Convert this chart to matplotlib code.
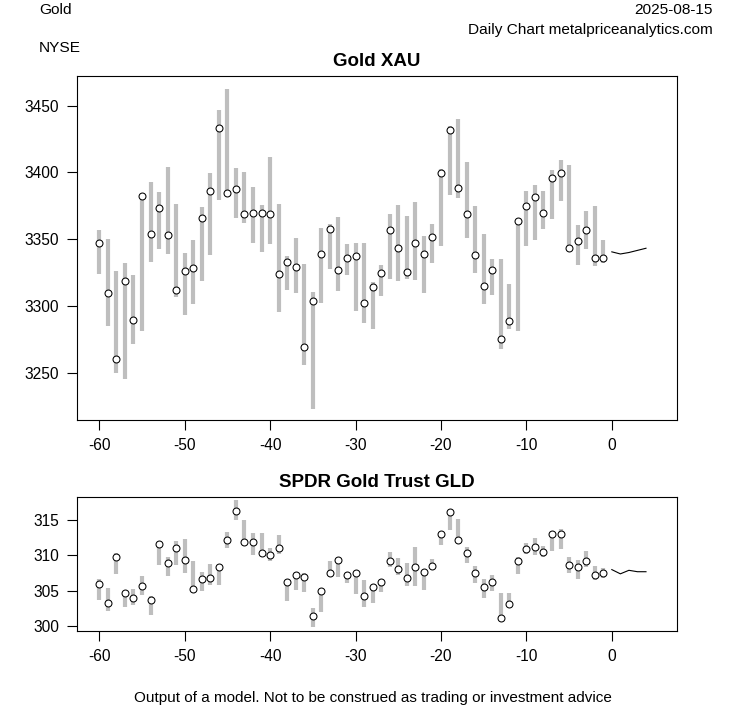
import numpy as np
import matplotlib
matplotlib.use('Agg')
import matplotlib.pyplot as plt

plt.rcParams['font.family'] = ['Liberation Sans', 'DejaVu Sans']
plt.rcParams['axes.unicode_minus'] = False

days = list(range(-60, 0))

# Gold XAU: close, high, low
xau_close = [3346.9, 3309.5, 3260.0, 3318.5, 3289.2, 3382.4, 3353.7, 3373.1, 3352.9, 3311.7,
             3326.0, 3328.2, 3365.6, 3385.9, 3433.0, 3384.4, 3387.4, 3368.8, 3369.4, 3369.4,
             3368.8, 3323.7, 3332.7, 3329.0, 3269.0, 3303.4, 3338.7, 3357.4, 3326.7, 3335.7,
             3337.4, 3301.9, 3313.9, 3324.4, 3356.7, 3343.2, 3325.2, 3346.9, 3338.7, 3351.4,
             3399.4, 3431.8, 3388.1, 3368.6, 3337.9, 3314.6, 3326.7, 3275.0, 3288.5, 3363.4,
             3374.6, 3381.4, 3369.4, 3395.6, 3399.4, 3343.2, 3348.4, 3356.7, 3335.7, 3335.7]
xau_high = [3356.9, 3350.2, 3326.2, 3332.0, 3323.2, 3382.4, 3393.1, 3385.6, 3404.3, 3376.6,
            3339.4, 3349.6, 3374.4, 3399.8, 3447.0, 3462.7, 3403.6, 3400.6, 3388.9, 3375.4,
            3411.8, 3376.6, 3337.7, 3351.1, 3331.2, 3310.6, 3358.6, 3361.2, 3366.4, 3346.4,
            3346.9, 3346.9, 3317.7, 3330.9, 3369.1, 3375.8, 3367.5, 3378.1, 3352.6, 3361.6,
            3402.4, 3434.5, 3439.7, 3407.6, 3374.6, 3353.7, 3335.0, 3335.0, 3316.5, 3364.9,
            3386.3, 3390.8, 3386.3, 3402.1, 3409.6, 3405.8, 3360.4, 3371.4, 3375.1, 3349.6]
xau_low = [3323.9, 3285.0, 3249.5, 3245.0, 3271.5, 3281.2, 3332.7, 3343.0, 3339.0, 3306.7,
           3293.0, 3301.5, 3319.0, 3338.2, 3379.4, 3382.0, 3365.9, 3362.1, 3347.2, 3340.4,
           3346.4, 3295.2, 3311.7, 3309.7, 3255.8, 3222.8, 3302.2, 3327.7, 3311.4, 3323.2,
           3296.4, 3287.5, 3282.7, 3307.5, 3320.2, 3318.5, 3320.2, 3319.2, 3309.7, 3332.0,
           3345.1, 3383.1, 3381.0, 3350.7, 3324.4, 3301.2, 3308.0, 3267.5, 3282.5, 3281.0,
           3344.6, 3349.1, 3357.4, 3364.9, 3378.5, 3343.2, 3330.4, 3342.4, 3329.7, 3332.0]

# SPDR Gold Trust GLD: close, high, low
gld_close = [306.0, 303.2, 309.8, 304.7, 304.0, 305.7, 303.7, 311.7, 309.0, 311.0,
             309.4, 305.3, 306.6, 306.8, 308.4, 312.2, 316.3, 311.9, 311.9, 310.3,
             310.1, 311.1, 306.2, 307.2, 307.0, 301.4, 304.9, 307.5, 309.4, 307.2,
             307.5, 304.2, 305.5, 306.2, 309.2, 308.1, 306.8, 308.4, 307.7, 308.5,
             313.1, 316.1, 312.2, 310.3, 307.5, 305.5, 306.2, 301.1, 303.1, 309.2,
             310.9, 311.2, 310.5, 313.1, 313.1, 308.6, 308.3, 309.2, 307.3, 307.5]
gld_high = [306.6, 305.4, 310.3, 304.9, 305.2, 307.1, 304.2, 311.7, 309.8, 312.0,
            312.3, 309.2, 307.7, 308.8, 308.7, 313.3, 317.8, 315.1, 313.2, 313.2,
            311.1, 312.9, 306.3, 307.6, 307.5, 302.6, 304.9, 309.2, 309.4, 307.6,
            307.8, 306.5, 305.8, 306.5, 310.5, 309.6, 308.9, 311.2, 307.7, 309.5,
            313.1, 316.1, 315.2, 311.2, 308.5, 306.7, 307.2, 304.7, 304.7, 309.8,
            311.8, 312.5, 311.3, 313.1, 313.8, 309.8, 309.3, 310.6, 308.5, 308.2]
gld_low = [303.7, 302.1, 307.4, 302.7, 303.0, 304.4, 301.5, 308.7, 307.1, 308.7,
           307.5, 305.3, 305.0, 305.8, 305.8, 311.1, 315.0, 311.9, 310.1, 309.8,
           309.2, 310.2, 303.5, 305.1, 304.8, 299.9, 302.0, 307.5, 307.0, 306.1,
           304.5, 302.7, 303.2, 304.8, 308.4, 307.3, 305.7, 305.7, 305.1, 308.5,
           311.5, 313.6, 312.2, 308.9, 306.1, 304.0, 305.0, 301.1, 303.1, 307.4,
           310.2, 310.1, 309.8, 310.6, 310.9, 307.5, 306.6, 308.3, 306.5, 306.8]

# model forecast
fc_days = [0, 1, 2, 3, 4]
xau_fc = [3340.5, 3338.9, 3340.0, 3341.6, 3343.2]
gld_fc = [308.0, 307.4, 307.9, 307.7, 307.7]

fig = plt.figure(figsize=(7.53, 7.08), dpi=100)
ax1 = fig.add_axes([0.1023, 0.4068, 0.797, 0.4859])
ax2 = fig.add_axes([0.1023, 0.1088, 0.797, 0.1893])


def draw_panel(ax, close, high, low, fc, title):
    ax.vlines(days, low, high, colors='#bebebe', linewidth=3.0, zorder=2)
    ax.plot(days, close, 'o', markersize=5.0, markerfacecolor='white',
            markeredgecolor='black', markeredgewidth=0.75, zorder=3)
    ax.plot(fc_days, fc, color='black', linewidth=0.8, zorder=3)
    ax.set_title(title, fontsize=13.5, fontweight='bold', pad=7)
    ax.set_xticks([-60, -50, -40, -30, -20, -10, 0])
    ax.set_xlim(-62.6, 7.65)
    ax.tick_params(direction='out', length=7, width=0.8, labelsize=11.2, pad=6)
    for s in ax.spines.values():
        s.set_linewidth(0.8)


draw_panel(ax1, xau_close, xau_high, xau_low, xau_fc, 'Gold XAU')
ax1.set_yticks([3250, 3300, 3350, 3400, 3450])
ax1.set_ylim(3214.5, 3472.3)

draw_panel(ax2, gld_close, gld_high, gld_low, gld_fc, 'SPDR Gold Trust GLD')
ax2.set_yticks([300, 305, 310, 315])
ax2.set_ylim(299.3, 318.3)

fig.text(39 / 753, 1 - 10 / 708, 'Gold', fontsize=11.1, ha='left', va='center')
fig.text(39 / 753, 1 - 48 / 708, 'NYSE', fontsize=11.1, ha='left', va='center')
fig.text(713 / 753, 1 - 10 / 708, '2025-08-15', fontsize=11.1, ha='right', va='center')
fig.text(713 / 753, 1 - 30 / 708, 'Daily Chart metalpriceanalytics.com', fontsize=11.1,
         ha='right', va='center')
fig.text(373 / 753, 1 - 698 / 708, 'Output of a model. Not to be construed as trading or investment advice',
         fontsize=11.0, ha='center', va='center')

fig.savefig('out.png', dpi=100)
